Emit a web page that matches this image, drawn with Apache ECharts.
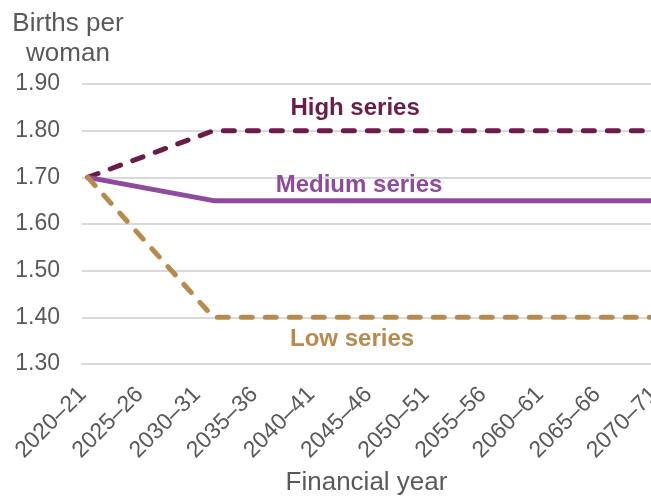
<!DOCTYPE html>
<html>
<head>
<meta charset="utf-8">
<script src="https://cdn.jsdelivr.net/npm/echarts@6/dist/echarts.min.js"></script>
<style>
html,body{margin:0;padding:0;background:#fff;}
#c{width:651px;height:499px;}
</style>
</head>
<body>
<div id="c"></div>
<script>
// Categories: annual financial years 2020–21 … 2070–71
const firstYear = 2020;
const lastYear = 2070;
const categories = [];
for (let y = firstYear; y <= lastYear; y++) {
  categories.push(y + '\u2013' + String((y + 1) % 100).padStart(2, '0'));
}
// Series key points [financial year, births per woman]
const highSeries = [['2020–21', 1.70], ['2031–32', 1.80], ['2070–71', 1.80]];
const mediumSeries = [['2020–21', 1.70], ['2031–32', 1.65], ['2070–71', 1.65]];
const lowSeries = [['2020–21', 1.70], ['2031–32', 1.40], ['2070–71', 1.40]];
const seriesNames = ['High series', 'Medium series', 'Low series'];
// Where each series' label is attached (category on the flat part of each line)
const labelAnchors = [['2044–45', 1.80], ['2044–45', 1.65], ['2044–45', 1.40]];
const yMin = 1.30, yMax = 1.90, yStep = 0.10;

const colors = ['#6B1D47', '#8E4A9C', '#B88A4B'];
const chart = echarts.init(document.getElementById('c'), null, {renderer: 'canvas'});
const FONT = 'Liberation Sans, Arial, sans-serif';

function mk(name, data, color, dashed, anchor, offset) {
  return {
    name: name,
    type: 'line',
    data: data,
    symbol: 'none',
    animation: false,
    lineStyle: {
      color: color,
      width: 5,
      type: dashed ? [11, 13] : 'solid',
      cap: dashed ? 'round' : 'butt',
      join: 'round'
    },
    markPoint: {
      symbol: 'circle',
      symbolSize: 0,
      data: [{coord: anchor, value: name}],
      label: {
        show: true,
        formatter: name,
        position: 'inside',
        offset: offset,
        color: color,
        fontFamily: FONT,
        fontSize: 24,
        fontWeight: 'bold'
      }
    }
  };
}

chart.setOption({
  backgroundColor: '#fff',
  animation: false,
  grid: {left: 82, top: 84, width: 583, height: 280, containLabel: false, outerBoundsMode: 'none'},
  graphic: [{
    type: 'text',
    x: 68, y: 9,
    style: {
      text: 'Births per\nwoman',
      font: '26px ' + FONT,
      fill: '#595959',
      align: 'center',
      verticalAlign: 'top',
      lineHeight: 30
    }
  }],
  xAxis: {
    type: 'category',
    data: categories,
    boundaryGap: true,
    axisLine: {show: true, lineStyle: {color: '#D9D9D9', width: 2}},
    axisTick: {show: false},
    axisLabel: {
      interval: 4,
      rotate: 45,
      margin: 22,
      padding: [0, 7, 0, 0],
      color: '#595959',
      fontFamily: FONT,
      fontSize: 23
    },
    name: 'Financial year',
    nameLocation: 'middle',
    nameGap: 106,
    nameTextStyle: {color: '#595959', fontFamily: FONT, fontSize: 26, padding: [0, 14, 0, 0]}
  },
  yAxis: {
    type: 'value',
    min: yMin, max: yMax, interval: yStep,
    axisLine: {show: false},
    axisTick: {show: false},
    axisLabel: {
      margin: 22,
      color: '#595959',
      fontFamily: FONT,
      fontSize: 23,
      formatter: v => v.toFixed(2)
    },
    splitLine: {lineStyle: {color: '#D9D9D9', width: 2}}
  },
  series: [
    mk(seriesNames[0], highSeries, colors[0], true, labelAnchors[0], [-7, -22]),
    mk(seriesNames[1], mediumSeries, colors[1], false, labelAnchors[1], [-3, -15]),
    mk(seriesNames[2], lowSeries, colors[2], true, labelAnchors[2], [-10, 22])
  ]
});
</script>
</body>
</html>
